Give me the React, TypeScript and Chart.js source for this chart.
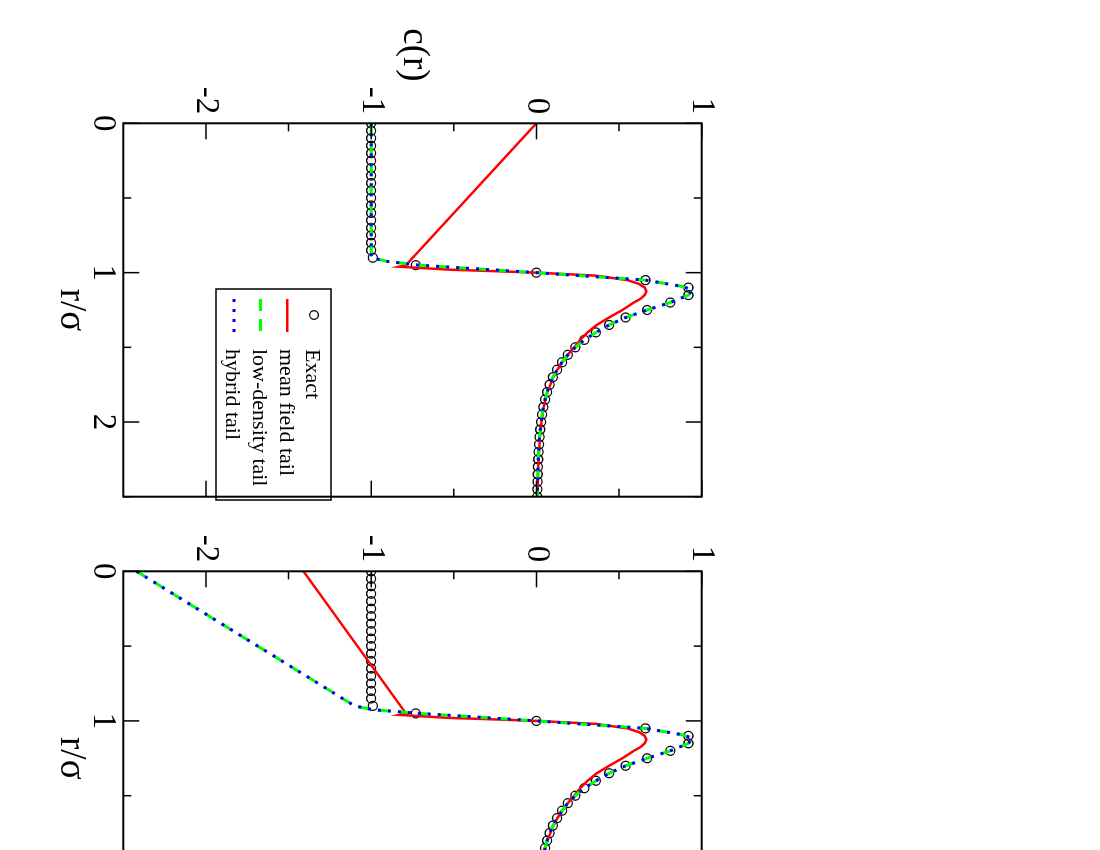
import React, { useEffect, useRef } from 'react';
import { Chart, registerables } from 'chart.js';

Chart.register(...registerables);

// ---------- data (r/σ, c(r)) ----------
const rExact = [
  0, 0.05, 0.1, 0.15, 0.2, 0.25, 0.3, 0.35, 0.4, 0.45, 0.5, 0.55, 0.6, 0.65, 0.7, 0.75, 0.8, 0.85, 0.9,
  0.95, 1.0, 1.05, 1.1, 1.15, 1.2, 1.25, 1.3, 1.35, 1.4, 1.45, 1.5, 1.55, 1.6, 1.65, 1.7, 1.75, 1.8,
  1.85, 1.9, 1.95, 2.0, 2.05, 2.1, 2.15, 2.2, 2.25, 2.3, 2.35, 2.4, 2.45, 2.5,
];
const cExact = [
  -1, -1, -1, -1, -1, -1, -1, -1, -1, -1, -1, -1, -1, -1, -1, -1, -1, -1, -0.99,
  -0.73, 0.0, 0.66, 0.92, 0.92, 0.81, 0.67, 0.54, 0.44, 0.36, 0.29, 0.235, 0.19, 0.155, 0.125, 0.1, 0.08, 0.065,
  0.052, 0.042, 0.034, 0.028, 0.023, 0.019, 0.016, 0.013, 0.011, 0.009, 0.008, 0.007, 0.006, 0.005,
];

// mean field tail, panel 1 and panel 2
const rMeanField1 = [0, 0.95, 0.96, 0.98, 0.99, 1.0, 1.02, 1.05, 1.075, 1.1, 1.125, 1.15, 1.175, 1.2, 1.25, 1.3, 1.35, 1.4, 1.45, 1.5, 1.55, 1.6, 1.65, 1.7, 1.8, 1.9, 2.0, 2.1, 2.2, 2.3, 2.4, 2.5];
const cMeanField1 = [0, -0.79, -0.83, -0.53, -0.25, 0.0, 0.36, 0.55, 0.62, 0.655, 0.665, 0.655, 0.63, 0.59, 0.52, 0.44, 0.365, 0.31, 0.265, 0.228, 0.19, 0.157, 0.127, 0.102, 0.066, 0.044, 0.03, 0.021, 0.015, 0.011, 0.008, 0.006];
const rMeanField2 = [0, 0.95, 0.96, 0.98, 0.99, 1.0, 1.02, 1.05, 1.075, 1.1, 1.125, 1.15, 1.175, 1.2, 1.25, 1.3, 1.35, 1.4, 1.45, 1.5, 1.55, 1.6, 1.65, 1.7, 1.8, 1.9, 2.0, 2.1, 2.2, 2.3, 2.4, 2.5];
const cMeanField2 = [-1.41, -0.79, -0.83, -0.53, -0.25, 0.0, 0.36, 0.55, 0.62, 0.655, 0.665, 0.655, 0.63, 0.59, 0.52, 0.44, 0.365, 0.31, 0.265, 0.228, 0.19, 0.157, 0.127, 0.102, 0.066, 0.044, 0.03, 0.021, 0.015, 0.011, 0.008, 0.006];

// low-density tail, panel 1 and panel 2
const rLowDensity1 = [0, 0.9, 0.925, 0.95, 1.0, 1.05, 1.09, 1.115, 1.15, 1.2, 1.25, 1.3, 1.35, 1.4, 1.45, 1.5, 1.55, 1.6, 1.65, 1.7, 1.75, 1.8, 1.85, 1.9, 1.95, 2.0, 2.1, 2.2, 2.3, 2.4, 2.5];
const cLowDensity1 = [-1, -1, -0.9, -0.71, 0.0, 0.66, 0.87, 0.945, 0.92, 0.81, 0.67, 0.54, 0.44, 0.36, 0.29, 0.235, 0.19, 0.155, 0.125, 0.1, 0.08, 0.065, 0.052, 0.042, 0.034, 0.028, 0.019, 0.013, 0.009, 0.007, 0.005];
const rLowDensity2 = [0, 0.9, 0.925, 0.95, 1.0, 1.05, 1.09, 1.115, 1.15, 1.2, 1.25, 1.3, 1.35, 1.4, 1.45, 1.5, 1.55, 1.6, 1.65, 1.7, 1.75, 1.8, 1.85, 1.9, 1.95, 2.0, 2.1, 2.2, 2.3, 2.4, 2.5];
const cLowDensity2 = [-2.42, -1.1, -0.99, -0.71, 0.0, 0.66, 0.87, 0.945, 0.92, 0.81, 0.67, 0.54, 0.44, 0.36, 0.29, 0.235, 0.19, 0.155, 0.125, 0.1, 0.08, 0.065, 0.052, 0.042, 0.034, 0.028, 0.019, 0.013, 0.009, 0.007, 0.005];

// hybrid tail, panel 1 and panel 2 (coincides with low-density tail)
const rHybrid1 = [0, 0.9, 0.925, 0.95, 1.0, 1.05, 1.09, 1.115, 1.15, 1.2, 1.25, 1.3, 1.35, 1.4, 1.45, 1.5, 1.55, 1.6, 1.65, 1.7, 1.75, 1.8, 1.85, 1.9, 1.95, 2.0, 2.1, 2.2, 2.3, 2.4, 2.5];
const cHybrid1 = [-1, -1, -0.9, -0.71, 0.0, 0.66, 0.87, 0.945, 0.92, 0.81, 0.67, 0.54, 0.44, 0.36, 0.29, 0.235, 0.19, 0.155, 0.125, 0.1, 0.08, 0.065, 0.052, 0.042, 0.034, 0.028, 0.019, 0.013, 0.009, 0.007, 0.005];
const rHybrid2 = [0, 0.9, 0.925, 0.95, 1.0, 1.05, 1.09, 1.115, 1.15, 1.2, 1.25, 1.3, 1.35, 1.4, 1.45, 1.5, 1.55, 1.6, 1.65, 1.7, 1.75, 1.8, 1.85, 1.9, 1.95, 2.0, 2.1, 2.2, 2.3, 2.4, 2.5];
const cHybrid2 = [-2.42, -1.1, -0.99, -0.71, 0.0, 0.66, 0.87, 0.945, 0.92, 0.81, 0.67, 0.54, 0.44, 0.36, 0.29, 0.235, 0.19, 0.155, 0.125, 0.1, 0.08, 0.065, 0.052, 0.042, 0.034, 0.028, 0.019, 0.013, 0.009, 0.007, 0.005];

// axes
const rRange = [0, 2.5];
const cRange = [-2.5, 1];
const rMajorTicks = [0, 1, 2];
const rMinorTicks = [0.5, 1.5, 2.5];
const cMajorTicks = [-2, -1, 0, 1];
const cMinorTicks = [-1.5, -0.5, 0.5];
const xTitle = 'r/σ';
const yTitle = 'c(r)';
const legendLabels = ['Exact', 'mean field tail', 'low-density tail', 'hybrid tail'];

const SERIF = "'Liberation Serif', 'Times New Roman', serif";
const RED = '#ff0000';
const GREEN = '#00ff00';
const BLUE = '#0000ff';

const pts = (xs: number[], ys: number[]) => xs.map((x, i) => ({ x, y: ys[i] }));

const decorPlugin = {
  id: 'decor',
  afterDraw(chart: any, _args: any, opts: any) {
    const { ctx, chartArea: a, scales } = chart;
    const xs = scales.x;
    const ys = scales.y;
    ctx.save();
    ctx.strokeStyle = '#000';
    ctx.lineWidth = 1.5;
    ctx.lineCap = 'butt';
    const MAJ = 16;
    const MIN = 8;
    const xt = (vals: number[], len: number) => {
      vals.forEach((v) => {
        const p = xs.getPixelForValue(v);
        ctx.beginPath();
        ctx.moveTo(p, a.bottom);
        ctx.lineTo(p, a.bottom - len);
        ctx.moveTo(p, a.top);
        ctx.lineTo(p, a.top + len);
        ctx.stroke();
      });
    };
    const yt = (vals: number[], len: number) => {
      vals.forEach((v) => {
        const p = ys.getPixelForValue(v);
        ctx.beginPath();
        ctx.moveTo(a.left, p);
        ctx.lineTo(a.left + len, p);
        ctx.moveTo(a.right, p);
        ctx.lineTo(a.right - len, p);
        ctx.stroke();
      });
    };
    xt(rMajorTicks, MAJ);
    xt(rMinorTicks, MIN);
    yt(cMajorTicks, MAJ);
    yt(cMinorTicks, MIN);

    // titles
    ctx.fillStyle = '#000';
    ctx.font = `37px ${SERIF}`;
    ctx.textAlign = 'center';
    ctx.textBaseline = 'alphabetic';
    ctx.fillText(xTitle, (a.left + a.right) / 2, a.bottom + 62.5);
    if (opts.yTitle) {
      ctx.fillText(yTitle, a.left - 68.3, (a.top + a.bottom) / 2 + 8);
    }

    // legend
    if (opts.legend) {
      const bx = a.left + 165.7;
      const by = a.top + 370.7;
      const bw = 211;
      const bh = 115;
      ctx.fillStyle = '#fff';
      ctx.fillRect(bx, by, bw, bh);
      ctx.lineWidth = 1.5;
      ctx.strokeStyle = '#000';
      ctx.strokeRect(bx, by, bw, bh);
      ctx.font = `22px ${SERIF}`;
      ctx.textAlign = 'left';
      legendLabels.forEach((label, i) => {
        const ry = by + 17 + i * 26.7;
        if (i === 0) {
          ctx.beginPath();
          ctx.lineWidth = 1.3;
          ctx.strokeStyle = '#000';
          ctx.setLineDash([]);
          ctx.arc(bx + 26, ry, 4.3, 0, Math.PI * 2);
          ctx.stroke();
        } else {
          ctx.beginPath();
          ctx.lineWidth = i === 1 ? 2.5 : 3;
          ctx.strokeStyle = i === 1 ? RED : i === 2 ? GREEN : BLUE;
          ctx.setLineDash(i === 1 ? [] : i === 2 ? [12, 8] : [3, 7]);
          ctx.moveTo(bx + 10, ry);
          ctx.lineTo(bx + 43, ry);
          ctx.stroke();
          ctx.setLineDash([]);
        }
        ctx.fillStyle = '#000';
        ctx.fillText(label, bx + 60, ry + 7.5);
      });
    }

    // frame
    ctx.strokeStyle = '#000';
    ctx.lineWidth = 2;
    ctx.setLineDash([]);
    ctx.strokeRect(a.left, a.top, a.right - a.left, a.bottom - a.top);
    ctx.restore();
  },
};

type PanelProps = {
  u0: number;
  width: number;
  height: number;
  padding: { left: number; right: number; top: number; bottom: number };
  meanField: [number[], number[]];
  lowDensity: [number[], number[]];
  hybrid: [number[], number[]];
  legend: boolean;
  showYTitle: boolean;
};

function Panel(props: PanelProps) {
  const ref = useRef<HTMLCanvasElement | null>(null);
  useEffect(() => {
    if (!ref.current) return;
    const tickFont = { family: SERIF, size: 33 };
    const chart = new Chart(ref.current, {
      type: 'scatter',
      data: {
        datasets: [
          {
            label: legendLabels[0],
            data: pts(rExact, cExact),
            showLine: false,
            pointRadius: 4.5,
            pointHoverRadius: 4.5,
            pointBorderWidth: 1.3,
            pointBorderColor: '#000',
            pointBackgroundColor: 'rgba(0,0,0,0)',
            order: 3,
          },
          {
            label: legendLabels[1],
            data: pts(props.meanField[0], props.meanField[1]),
            showLine: true,
            borderColor: RED,
            borderWidth: 2.5,
            pointRadius: 0,
            tension: 0,
            order: 2,
          },
          {
            label: legendLabels[2],
            data: pts(props.lowDensity[0], props.lowDensity[1]),
            showLine: true,
            borderColor: GREEN,
            borderWidth: 3,
            borderDash: [12, 8],
            pointRadius: 0,
            tension: 0,
            order: 1,
          },
          {
            label: legendLabels[3],
            data: pts(props.hybrid[0], props.hybrid[1]),
            showLine: true,
            borderColor: BLUE,
            borderWidth: 3,
            borderDash: [3, 7],
            pointRadius: 0,
            tension: 0,
            order: 0,
          },
        ],
      } as any,
      options: {
        responsive: false,
        animation: false,
        devicePixelRatio: 1,
        events: [],
        layout: { padding: props.padding },
        plugins: {
          legend: { display: false },
          tooltip: { enabled: false },
          decor: { legend: props.legend, yTitle: props.showYTitle },
        } as any,
        scales: {
          x: {
            type: 'linear',
            min: rRange[0],
            max: rRange[1],
            grid: { display: false, drawTicks: false },
            border: { display: false },
            afterBuildTicks: (s: any) => {
              s.ticks = rMajorTicks.map((v) => ({ value: v }));
            },
            afterFit: (s: any) => {
              s.height = 60;
            },
            ticks: {
              font: tickFont,
              color: '#000',
              padding: 1,
              maxRotation: 0,
              minRotation: 0,
              autoSkip: false,
              callback: (v: any) => String(v),
            },
          },
          y: {
            type: 'linear',
            min: cRange[0],
            max: cRange[1],
            grid: { display: false, drawTicks: false },
            border: { display: false },
            afterBuildTicks: (s: any) => {
              s.ticks = cMajorTicks.map((v) => ({ value: v }));
            },
            afterFit: (s: any) => {
              s.width = 60;
            },
            ticks: {
              font: tickFont,
              color: '#000',
              padding: 9,
              autoSkip: false,
              callback: (v: any) => String(v),
            },
          },
        } as any,
      },
      plugins: [decorPlugin],
    });
    return () => chart.destroy();
  }, []);
  return (
    <canvas
      ref={ref}
      width={props.width}
      height={props.height}
      style={{
        position: 'absolute',
        left: props.u0,
        top: 300,
        width: props.width,
        height: props.height,
      }}
    />
  );
}

export default function App() {
  return (
    <div
      style={{
        position: 'fixed',
        left: 0,
        top: 0,
        width: 1100,
        height: 850,
        overflow: 'hidden',
        background: '#fff',
      }}
    >
      <div
        style={{
          position: 'absolute',
          left: 1100,
          top: 0,
          width: 1000,
          height: 1100,
          transformOrigin: '0 0',
          transform: 'rotate(90deg)',
        }}
      >
        <Panel
          u0={440}
          width={560}
          height={800}
          padding={{ left: 71.3, right: 54.7, top: 98.3, bottom: 63.3 }}
          meanField={[rMeanField2, cMeanField2]}
          lowDensity={[rLowDensity2, cLowDensity2]}
          hybrid={[rHybrid2, cHybrid2]}
          legend={false}
          showYTitle={false}
        />
        <Panel
          u0={0}
          width={540}
          height={800}
          padding={{ left: 63.3, right: 43.3, top: 98.3, bottom: 63.3 }}
          meanField={[rMeanField1, cMeanField1]}
          lowDensity={[rLowDensity1, cLowDensity1]}
          hybrid={[rHybrid1, cHybrid1]}
          legend={true}
          showYTitle={true}
        />
      </div>
    </div>
  );
}
